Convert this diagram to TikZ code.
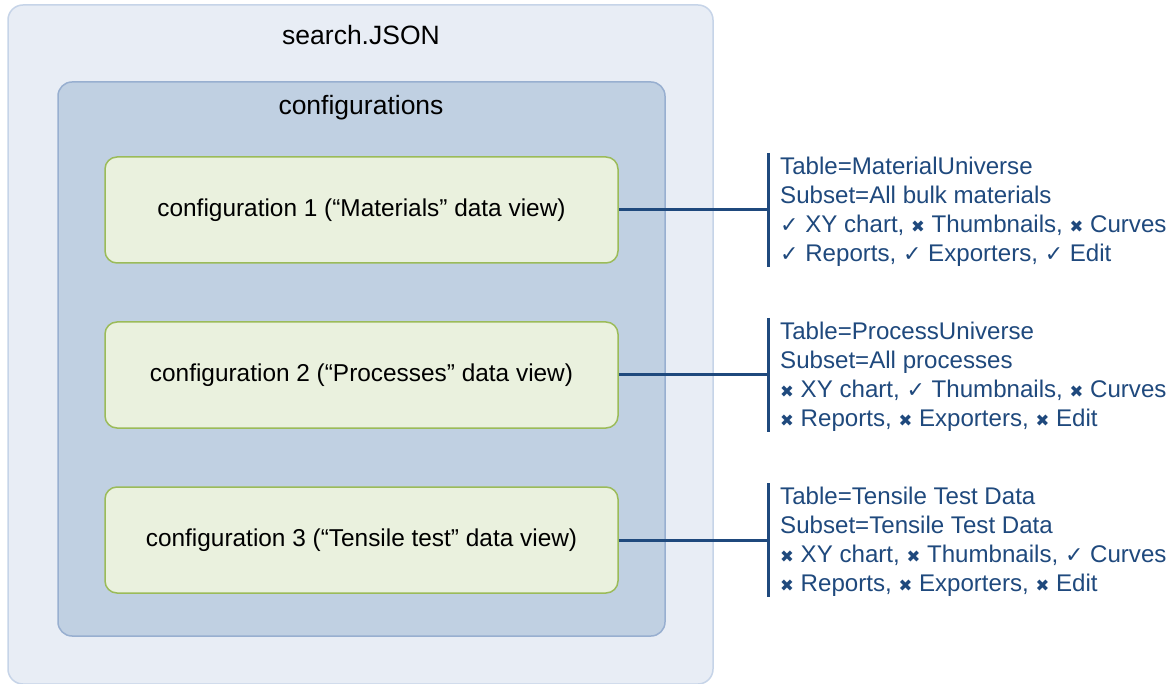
\documentclass[tikz,border=0pt]{standalone}
\usepackage{fontspec}
\setmainfont{Liberation Sans}
\newfontfamily\dejavu{DejaVu Sans}
\definecolor{outerfill}{HTML}{E8EDF5}
\definecolor{outerline}{HTML}{C6D4E8}
\definecolor{innerfill}{HTML}{C0D0E2}
\definecolor{innerline}{HTML}{98AFD0}
\definecolor{greenfill}{HTML}{EAF1DE}
\definecolor{greenline}{HTML}{9BBB59}
\definecolor{navy}{HTML}{1F497D}
\newcommand\ck{{\dejavu\fontsize{22}{22}\selectfont ✓}}
\newcommand\xm{{\dejavu\fontsize{16.5}{17}\selectfont ✖}}
\begin{document}
\begin{tikzpicture}[x=1pt,y=-1pt,
  panel/.style={draw=outerline, fill=outerfill, line width=1.5pt, rounded corners=15pt},
  group/.style={draw=innerline, fill=innerfill, line width=1.5pt, rounded corners=14pt},
  cfg/.style={draw=greenline, fill=greenfill, line width=1.5pt, rounded corners=12pt,
    minimum width=513pt, minimum height=106pt, inner sep=0pt,
    font=\fontsize{24.4}{30}\selectfont},
  title/.style={font=\fontsize{26.5}{30}\selectfont, text=black},
  info/.style={anchor=west, align=left, text=navy, inner sep=0pt,
    font=\fontsize{24.1}{29}\selectfont},
  link/.style={draw=navy, line width=3pt},
  brace/.style={draw=navy, line width=3pt}]
\useasboundingbox (0,0) rectangle (1175,684);
\fill[white] (0,0) rectangle (1175,684);
\draw[panel] (8,5) rectangle (713,684);
\node[title] (outer) at (361,35) {search.JSON};
\draw[group] (58,82) rectangle (665,636);
\node[title] (inner) at (361,108) {configurations};
\node[cfg] (c1) at (361.5,210) {configuration 1 (“Materials” data view)};
\node[cfg] (c2) at (361.5,375) {configuration 2 (“Processes” data view)};
\node[cfg] (c3) at (361.5,540) {configuration 3 (“Tensile test” data view)};
\coordinate (b1t) at (768,153); \coordinate (b1b) at (768,267);
\coordinate (b2t) at (768,318); \coordinate (b2b) at (768,432);
\coordinate (b3t) at (768,483); \coordinate (b3b) at (768,597);
\draw[brace] (b1t) -- (b1b);
\draw[brace] (b2t) -- (b2b);
\draw[brace] (b3t) -- (b3b);
\draw[link] (c1.east) -- (c1.east -| b1t);
\draw[link] (c2.east) -- (c2.east -| b2t);
\draw[link] (c3.east) -- (c3.east -| b3t);
\node[info] (i1) at (780,212) {Table=MaterialUniverse\\Subset=All bulk materials\\\ck{} XY chart, \xm{} Thumbnails, \xm{} Curves\\\ck{} Reports, \ck{} Exporters, \ck{} Edit};
\node[info] (i2) at (780,377) {Table=ProcessUniverse\\Subset=All processes\\\xm{} XY chart, \ck{} Thumbnails, \xm{} Curves\\\xm{} Reports, \xm{} Exporters, \xm{} Edit};
\node[info] (i3) at (780,542) {Table=Tensile Test Data\\Subset=Tensile Test Data\\\xm{} XY chart, \xm{} Thumbnails, \ck{} Curves\\\xm{} Reports, \xm{} Exporters, \xm{} Edit};
\end{tikzpicture}
\end{document}
